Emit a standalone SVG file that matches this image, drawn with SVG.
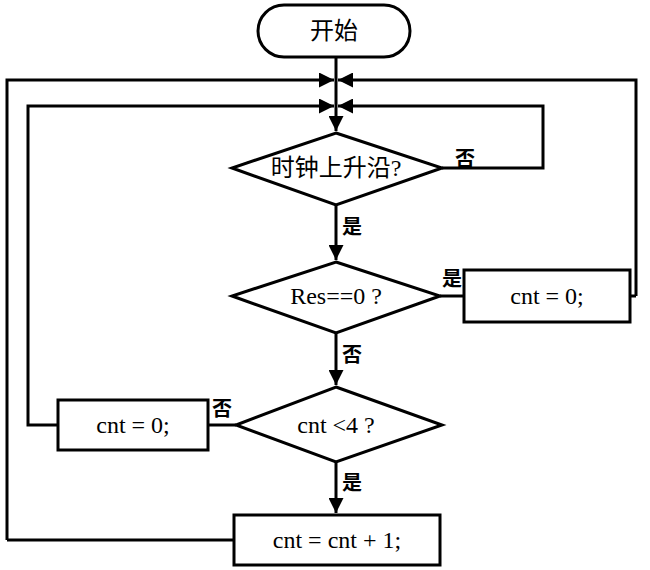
<svg xmlns="http://www.w3.org/2000/svg" width="650" height="570" viewBox="0 0 650 570">
<style>
.s{fill:#fff;stroke:#000;stroke-width:3}
.l{fill:none;stroke:#000;stroke-width:3}
.t{font-family:"Liberation Serif","Noto Sans CJK SC",serif;font-size:24px;text-anchor:middle;dominant-baseline:central;fill:#000}
.b{font-family:"Noto Sans CJK SC",sans-serif;font-size:20px;font-weight:bold;fill:#000}
</style>
<defs><marker id="a" viewBox="0 0 10 10" refX="10" refY="5" markerWidth="5" markerHeight="5" orient="auto"><path d="M0,0L10,5L0,10z"/></marker></defs>
<rect width="650" height="570" fill="#fff"/>
<g id="connectors">
<path class="l" d="M336,57V131" marker-end="url(#a)"/>
<path class="l" d="M7,540V80H334" marker-end="url(#a)"/>
<path class="l" d="M636,296V80H338" marker-end="url(#a)"/>
<path class="l" d="M58,425H28V106H334" marker-end="url(#a)"/>
<path class="l" d="M442,168H543V106H338" marker-end="url(#a)"/>
<path class="l" d="M336,205V260" marker-end="url(#a)"/>
<path class="l" d="M440,296H464"/>
<path class="l" d="M630,296H636"/>
<path class="l" d="M336,333V385" marker-end="url(#a)"/>
<path class="l" d="M236,425H208"/>
<path class="l" d="M336,462V513" marker-end="url(#a)"/>
<path class="l" d="M234,540H7"/>
<text class="b" x="455" y="166">否</text>
<text class="b" x="342" y="234">是</text>
<text class="b" x="442" y="286">是</text>
<text class="b" x="342" y="362">否</text>
<text class="b" x="212" y="416">否</text>
<text class="b" x="342" y="490">是</text>
</g>
<g id="start"><rect class="s" x="258" y="5" width="152" height="52" rx="26"/><text class="t" x="334" y="31">开始</text></g>
<g id="d1"><path class="s" d="M336,133L442,168L336,205L232,168z"/><text class="t" x="336" y="168">时钟上升沿?</text></g>
<g id="d2"><path class="s" d="M336,262L440,296L336,333L232,296z"/><text class="t" x="336" y="296">Res==0 ?</text></g>
<g id="r1"><rect class="s" x="464" y="270" width="166" height="52"/><text class="t" x="547" y="296">cnt = 0;</text></g>
<g id="d3"><path class="s" d="M336,387L442,425L336,462L236,425z"/><text class="t" x="336" y="425">cnt &lt;4 ?</text></g>
<g id="r2"><rect class="s" x="58" y="400" width="150" height="50"/><text class="t" x="133" y="425">cnt = 0;</text></g>
<g id="r3"><rect class="s" x="234" y="515" width="206" height="50"/><text class="t" x="337" y="540">cnt = cnt + 1;</text></g>
</svg>
